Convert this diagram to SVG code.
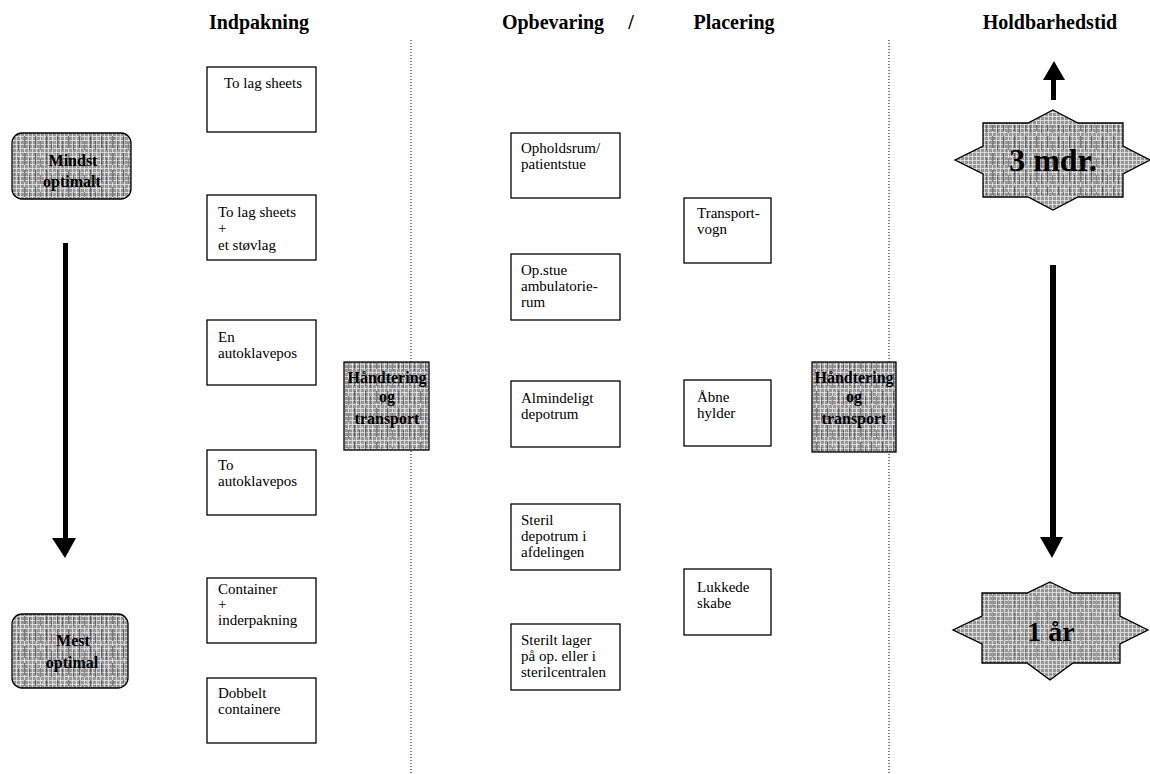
<svg xmlns="http://www.w3.org/2000/svg" width="1150" height="774" viewBox="0 0 1150 774">
<defs>
<pattern id="tex" width="4" height="4" patternUnits="userSpaceOnUse">
<rect width="4" height="4" fill="#969696"/>
<path d="M0 0.4H4M0.4 0V4" stroke="#ffffff" stroke-width="0.8" opacity="0.85"/>
</pattern>
<pattern id="streak" width="11" height="17" patternUnits="userSpaceOnUse">
<rect x="2" y="0" width="1.3" height="12" fill="#2a2a2a" opacity="0.55"/>
<rect x="7" y="5" width="1.1" height="9" fill="#222" opacity="0.45"/>
<rect x="9.5" y="1" width="1" height="4" fill="#fff" opacity="0.5"/>
</pattern>
</defs>
<style>
.h{font-family:"Liberation Serif",serif;font-weight:bold;font-size:20px;fill:#000}
.t{font-family:"Liberation Serif",serif;font-size:15px;fill:#000}
.b{font-family:"Liberation Serif",serif;font-weight:bold;font-size:16px;fill:#000;text-anchor:middle}
.big{font-family:"Liberation Serif",serif;font-weight:bold;fill:#000;text-anchor:middle}
.box{fill:#fff;stroke:#000;stroke-width:1.3}
.sh{fill:url(#tex);stroke:#000;stroke-width:1.3}
.st{fill:url(#streak);stroke:none}
.dot{stroke:#000;stroke-width:1;stroke-dasharray:1 2;fill:none}
</style>
<rect width="1150" height="774" fill="#fff"/>

<g id="headings">
<text class="h" x="259" y="29" text-anchor="middle">Indpakning</text>
<text class="h" x="553" y="29" text-anchor="middle">Opbevaring</text>
<text class="h" x="631" y="29" text-anchor="middle">/</text>
<text class="h" x="734" y="29" text-anchor="middle">Placering</text>
<text class="h" x="1050" y="29" text-anchor="middle">Holdbarhedstid</text>
</g>

<g id="connectors">
<line class="dot" x1="411" y1="40" x2="411" y2="774"/>
<line class="dot" x1="889" y1="40" x2="889" y2="774"/>
<rect x="63" y="243" width="5" height="297" fill="#000"/>
<polygon points="52,538 76,538 65,558" fill="#000"/>
<rect x="1051" y="78" width="5" height="22" fill="#000"/>
<polygon points="1043,80 1065,80 1054,61" fill="#000"/>
<rect x="1050" y="265" width="6" height="275" fill="#000"/>
<polygon points="1040,537 1063,537 1052,558" fill="#000"/>
</g>

<g id="mindst">
<rect class="sh" x="12" y="133" width="119" height="66" rx="10"/>
<rect class="st" x="14" y="135" width="115" height="62" rx="9"/>
<text class="b" x="73" y="166">Mindst</text>
<text class="b" x="72" y="187">optimalt</text>
</g>
<g id="mest">
<rect class="sh" x="12" y="614" width="116" height="74" rx="10"/>
<rect class="st" x="14" y="616" width="112" height="70" rx="9"/>
<text class="b" x="73" y="646">Mest</text>
<text class="b" x="72" y="668">optimal</text>
</g>

<g id="i1"><rect class="box" x="207" y="67" width="109" height="65"/><text class="t" x="263" y="88" text-anchor="middle">To lag sheets</text></g>
<g id="i2"><rect class="box" x="207" y="195" width="109" height="65"/><text class="t" x="218" y="217">To lag sheets</text><text class="t" x="218" y="233">+</text><text class="t" x="218" y="250">et støvlag</text></g>
<g id="i3"><rect class="box" x="207" y="320" width="109" height="65"/><text class="t" x="218" y="342">En</text><text class="t" x="218" y="358">autoklavepos</text></g>
<g id="i4"><rect class="box" x="207" y="450" width="109" height="65"/><text class="t" x="218" y="470">To</text><text class="t" x="218" y="486">autoklavepos</text></g>
<g id="i5"><rect class="box" x="207" y="578" width="109" height="65"/><text class="t" x="218" y="594">Container</text><text class="t" x="218" y="609">+</text><text class="t" x="218" y="625">inderpakning</text></g>
<g id="i6"><rect class="box" x="207" y="678" width="109" height="65"/><text class="t" x="218" y="698">Dobbelt</text><text class="t" x="218" y="714">containere</text></g>

<g id="h1">
<rect class="sh" x="344" y="362" width="85" height="88"/>
<rect class="st" x="345" y="363" width="83" height="86"/>
<text class="b" x="387" y="383">Håndtering</text>
<text class="b" x="387" y="402">og</text>
<text class="b" x="387" y="424">transport</text>
</g>
<g id="h2">
<rect class="sh" x="812" y="362" width="84" height="90"/>
<rect class="st" x="813" y="363" width="82" height="88"/>
<text class="b" x="854" y="383">Håndtering</text>
<text class="b" x="854" y="402">og</text>
<text class="b" x="854" y="424">transport</text>
</g>

<g id="o1"><rect class="box" x="511" y="133" width="109" height="65"/><text class="t" x="521" y="153">Opholdsrum/</text><text class="t" x="521" y="169">patientstue</text></g>
<g id="o2"><rect class="box" x="511" y="254" width="109" height="66"/><text class="t" x="521" y="275">Op.stue</text><text class="t" x="521" y="291">ambulatorie-</text><text class="t" x="521" y="307">rum</text></g>
<g id="o3"><rect class="box" x="511" y="381" width="109" height="66"/><text class="t" x="521" y="403">Almindeligt</text><text class="t" x="521" y="419">depotrum</text></g>
<g id="o4"><rect class="box" x="511" y="504" width="109" height="66"/><text class="t" x="521" y="525">Steril</text><text class="t" x="521" y="541">depotrum i</text><text class="t" x="521" y="557">afdelingen</text></g>
<g id="o5"><rect class="box" x="511" y="624" width="109" height="66"/><text class="t" x="521" y="645">Sterilt lager</text><text class="t" x="521" y="661">på op. eller i</text><text class="t" x="521" y="677">sterilcentralen</text></g>

<g id="p1"><rect class="box" x="684" y="198" width="87" height="65"/><text class="t" x="697" y="218">Transport-</text><text class="t" x="697" y="234">vogn</text></g>
<g id="p2"><rect class="box" x="684" y="380" width="87" height="66"/><text class="t" x="697" y="402">Åbne</text><text class="t" x="697" y="418">hylder</text></g>
<g id="p3"><rect class="box" x="684" y="569" width="87" height="66"/><text class="t" x="697" y="592">Lukkede</text><text class="t" x="697" y="608">skabe</text></g>

<g id="s1">
<polygon class="sh" points="1053,110 1078,123 1123,123 1123,146 1150,160 1123,174 1123,197 1078,197 1053,210 1028,197 983,197 983,174 955,160 983,146 983,123 1028,123"/>
<rect class="st" x="985" y="125" width="136" height="70"/>
<text class="big" x="1053" y="171" font-size="32">3 mdr.</text>
</g>
<g id="s2">
<polygon class="sh" points="1050,582 1073,593 1120,593 1120,616 1148,630 1120,644 1120,663 1073,663 1050,680 1027,663 982,663 982,644 953,630 982,616 982,593 1027,593"/>
<rect class="st" x="984" y="595" width="134" height="66" opacity="0.6"/>
<text class="big" x="1051" y="641" font-size="28">1 år</text>
</g>
</svg>
